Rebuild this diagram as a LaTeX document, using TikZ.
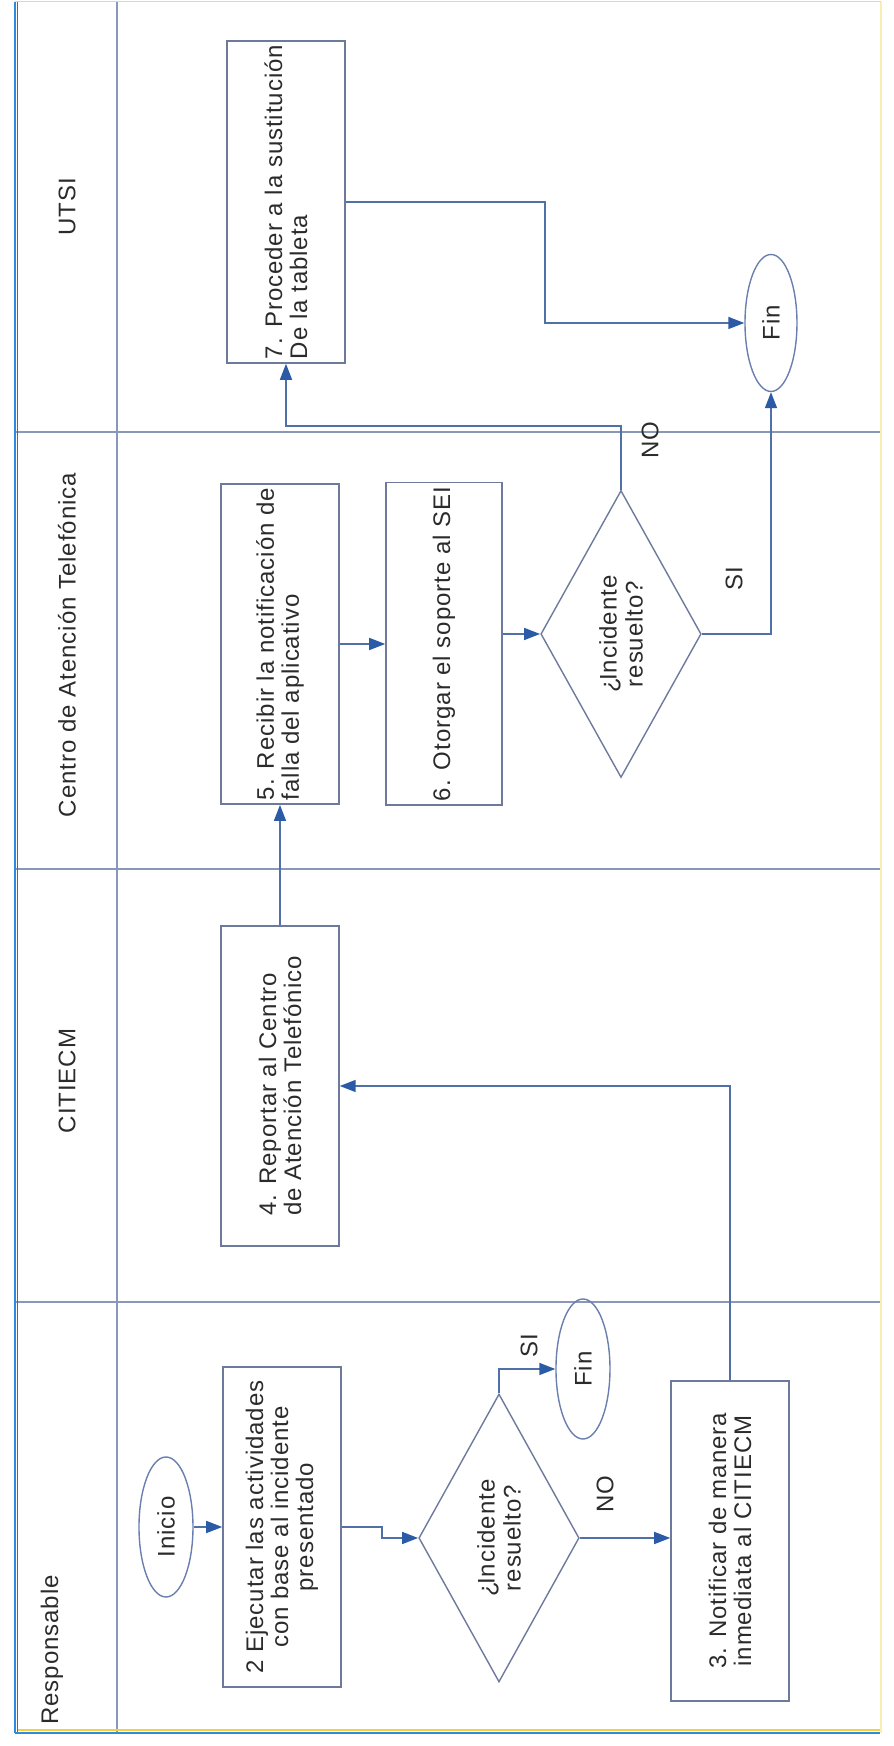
\documentclass[tikz,border=0pt]{standalone}
\usepackage{fontspec}
\setmainfont[LetterSpace=4]{Liberation Sans}
\usetikzlibrary{shapes.geometric,arrows.meta}

\definecolor{texto}{HTML}{2B2B2B}
\definecolor{borde}{HTML}{6D7A9C}
\definecolor{elipse}{HTML}{6A7FB0}
\definecolor{conector}{HTML}{5070A8}
\definecolor{punta}{HTML}{2B5BA6}
\definecolor{separador}{HTML}{8A98B8}
\definecolor{marcoazul}{HTML}{2F8BE0}
\definecolor{marcorojo}{HTML}{E0352B}
\definecolor{marcoamarillo}{HTML}{F2D23C}

\begin{document}
\begin{tikzpicture}[
				x=1pt, y=1pt,
				rotate=90, transform shape,
				every node/.style={font=\fontsize{24}{25}\selectfont, text=texto},
				proceso/.style={draw=borde, line width=1.5pt, rectangle, minimum width=320pt, minimum height=118pt, inner sep=4pt},
				decision/.style={draw=borde, line width=1.4pt, diamond, minimum width=288pt, minimum height=156pt, inner sep=0pt, align=center, font=\fontsize{24}{26}\selectfont},
				terminal/.style={draw=elipse, line width=1.4pt, ellipse, minimum width=140pt, minimum height=54pt, inner sep=0pt},
				etiqueta/.style={inner sep=0pt},
				flecha/.style={draw=conector, line width=1.6pt, -{Triangle[length=16pt,width=12pt,color=punta]}},
				carril/.style={draw=separador, line width=1.2pt}
				]
				
				\useasboundingbox (0,0) rectangle (1746,894);
				
				\draw[carril] (13,777) -- (1744,777);
				\draw[carril] (444,14) -- (444,879);
				\draw[carril] (877,14) -- (877,879);
				\draw[carril] (1314,14) -- (1314,879);
				\draw[marcoazul, line width=2.5pt] (13,879) -- (1744,879);
				\draw[marcorojo, line width=1pt] (13,876) -- (1744,876);
				\draw[marcoazul, line width=2pt] (13,14) -- (13,879);
				\draw[marcoamarillo, line width=1.5pt] (16,14) -- (16,876);
				\draw[marcoamarillo!40, line width=1.5pt] (13,13) -- (1744,13);
				\draw[separador!40, line width=1pt] (1744,13) -- (1744,879);
				
				\node (responsable) at (96,842) {Responsable};
				\node (citiecm) at (665,827) {CITIECM};
				\node (centro) at (1101,827) {Centro de Atención Telefónica};
				\node (utsi) at (1539,827) {UTSI};
				
				\node[terminal] (inicio) at (219,728) {Inicio};
				\node[proceso, align=center] (ejecutar) at (219,612) {2 Ejecutar las actividades\\con base al incidente\\presentado};
				\node[decision] (decision1) at (208,395) {¿\kern-3pt Incidente\\resuelto?};
				\node[terminal] (fin1) at (377,311) {Fin};
				\node[proceso, align=center] (notificar) at (205,164) {3. Notificar de manera\\inmediata al CITIECM};
				\node[proceso, align=left] (reportar) at (660,614) {4. Reportar al Centro\\de Atención Telefónico};
				\node[proceso, align=left] (recibir) at (1102,614) {5. Recibir la notificación de\\falla del aplicativo};
				\node[proceso, minimum height=116pt] (otorgar) at (1102,450) {6. Otorgar el soporte al SEI};
				\node[decision, minimum width=287pt, minimum height=157pt] (decision2) at (1112,273) {¿\kern-3pt Incidente\\resuelto?};
				\node[proceso, align=left] (sustituir) at (1544,608) {7. Proceder a la sustitución\\De la tableta};
				\node[terminal, minimum width=137pt, minimum height=52pt] (fin2) at (1423,123) {Fin};
				
				\node[etiqueta] (si1) at (400,365) {SI};
				\node[etiqueta] (no1) at (252,289) {NO};
				\node[etiqueta] (no2) at (1306,244) {NO};
				\node[etiqueta] (si2) at (1167,160) {SI};
				
				\draw[flecha] (inicio.south) -- (ejecutar.north);
				\draw[flecha] (ejecutar.south) -- ++(0,-40) -| (decision1.north);
				\draw[flecha] (decision1.east) -| (fin1.north);
				\draw[flecha] (decision1.south) -- (decision1.south |- notificar.north);
				\draw[flecha] (notificar.east) -| (reportar.south);
				\draw[flecha] (reportar.east) -- (recibir.west);
				\draw[flecha] (recibir.south) -- (otorgar.north);
				\draw[flecha] (decision2.north |- otorgar.south) -- (decision2.north);
				\draw[flecha] (decision2.east) -- ++(64,0) |- (sustituir.west);
				\draw[flecha] (decision2.south) |- (fin2.west);
				\draw[flecha] (sustituir.south) -- ++(0,-199) -| (fin2.north);
				
			\end{tikzpicture}
\end{document}
